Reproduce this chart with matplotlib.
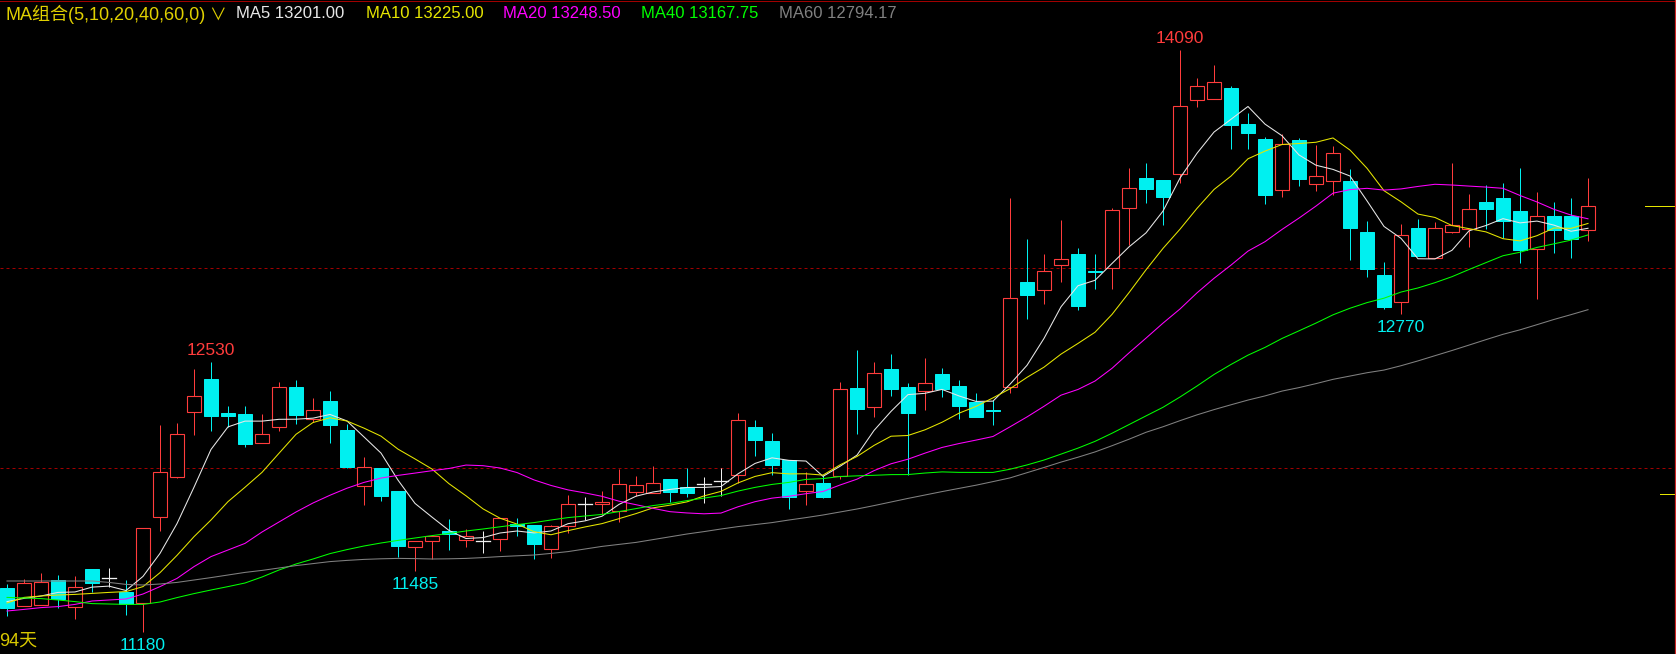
import numpy as np
import pandas as pd
import matplotlib
matplotlib.use("Agg")
import matplotlib.pyplot as plt
from matplotlib.patches import Rectangle

# ---------------- data ----------------
opens = [11400, 11312, 11317, 11440, 11303, 11495, 11448, 11378, 11327, 11753,
         11957, 12278, 12445, 12275, 12270, 12127, 12207, 12405, 12247, 12335,
         12190, 11908, 12000, 11885, 11603, 11633, 11685, 11638, 11635, 11647,
         11720, 11715, 11597, 11708, 11818, 11822, 11787, 11882, 11877, 11945,
         11905, 11920, 11935, 11967, 12203, 12135, 12042, 11887, 11923, 11962,
         12398, 12307, 12495, 12405, 12383, 12470, 12410, 12330, 12290, 12407,
         12930, 12888, 13013, 13070, 12987, 12998, 13298, 13450, 13440, 13468,
         13838, 13847, 13900, 13720, 13645, 13388, 13640, 13418, 13433, 13435,
         13180, 12965, 12832, 13200, 13048, 13182, 13193, 13330, 13350, 13285,
         13097, 13260, 13260, 13188]
highs = [11418, 11445, 11473, 11465, 11460, 11495, 11500, 11440, 11698, 12215,
         12225, 12495, 12530, 12310, 12310, 12270, 12430, 12438, 12350, 12385,
         12218, 12055, 12000, 11885, 11633, 11662, 11745, 11695, 11685, 11748,
         11748, 11715, 11713, 11863, 11857, 11885, 11997, 11960, 12010, 11945,
         12000, 11957, 12000, 12275, 12240, 12173, 12042, 11978, 11965, 12430,
         12590, 12530, 12570, 12425, 12550, 12500, 12440, 12375, 12340, 13350,
         13145, 13070, 13240, 13100, 13070, 13300, 13500, 13525, 13440, 14090,
         13950, 14015, 13910, 13775, 13657, 13668, 13652, 13615, 13610, 13495,
         13235, 13030, 13220, 13245, 13230, 13525, 13370, 13415, 13425, 13500,
         13380, 13330, 13350, 13450]
lows = [11260, 11312, 11317, 11302, 11247, 11378, 11405, 11265, 11180, 11687,
        11952, 12167, 12187, 12203, 12107, 12127, 12187, 12220, 12230, 12127,
        12002, 11817, 11835, 11557, 11485, 11543, 11590, 11607, 11577, 11587,
        11662, 11547, 11552, 11673, 11740, 11770, 11732, 11862, 11877, 11828,
        11857, 11827, 11862, 11927, 12062, 11965, 11795, 11817, 11852, 11943,
        12170, 12257, 12360, 11967, 12292, 12355, 12247, 12257, 12217, 12377,
        12743, 12822, 12932, 12792, 12897, 12897, 13115, 13327, 13217, 13427,
        13807, 13847, 13597, 13597, 13322, 13357, 13412, 13385, 13367, 13042,
        12957, 12797, 12770, 13062, 13048, 13177, 13107, 13197, 13148, 13027,
        12847, 13077, 13052, 13137]
closes = [11302, 11423, 11428, 11345, 11403, 11423, 11448, 11318, 11698, 11978,
          12168, 12358, 12262, 12262, 12122, 12168, 12403, 12265, 12288, 12215,
          12005, 12003, 11862, 11612, 11633, 11662, 11670, 11660, 11635, 11748,
          11712, 11622, 11708, 11818, 11818, 11828, 11918, 11913, 11923, 11882,
          11877, 11920, 11935, 12240, 12142, 12017, 11857, 11918, 11857, 12393,
          12297, 12473, 12395, 12277, 12425, 12395, 12310, 12257, 12285, 12848,
          12867, 12983, 13047, 12812, 12983, 13288, 13398, 13397, 13357, 13808,
          13908, 13928, 13717, 13677, 13367, 13618, 13447, 13460, 13573, 13202,
          12997, 12807, 13163, 13062, 13198, 13213, 13293, 13297, 13233, 13092,
          13258, 13192, 13143, 13308]

# moving-average values before enough in-window history exists
ma5_head = [11332, 11348, 11360, 11378]
ma10_head = [11325, 11353, 11360, 11365, 11368, 11373, 11378, 11382, 11407]
ma20_head = [11285, 11293, 11302, 11307, 11318, 11335, 11340, 11345, 11370, 11407,
             11448, 11507, 11557, 11590, 11623, 11680, 11730, 11780, 11825]
ma40_head = [11353, 11350, 11347, 11340, 11332, 11322, 11320, 11318, 11318, 11330,
             11352, 11372, 11390, 11407, 11425, 11455, 11490, 11520, 11545, 11572,
             11592, 11610, 11625, 11638, 11650, 11662, 11673, 11685, 11695, 11706,
             11717, 11727, 11740, 11752, 11760, 11768, 11782, 11797, 11812]
ma60_head = [11435, 11435, 11435, 11435, 11435, 11435, 11428, 11418, 11415, 11420,
             11428, 11440, 11452, 11465, 11478, 11488, 11500, 11512, 11522, 11532,
             11538, 11543, 11546, 11548, 11547, 11545, 11546, 11548, 11552, 11557,
             11561, 11565, 11573, 11582, 11595, 11608, 11618, 11628, 11642, 11656,
             11670, 11682, 11695, 11707, 11717, 11727, 11740, 11752, 11765, 11780,
             11795, 11812, 11830, 11848, 11865, 11882, 11898, 11914, 11932]

ma_periods = [5, 10, 20, 40, 60]
ma_heads = [ma5_head, ma10_head, ma20_head, ma40_head, ma60_head]
ma_colors = ['#E8E8E8', '#E6E600', '#FF00FF', '#00FF00', '#808080']
legend_labels = ['MA5 13201.00', 'MA10 13225.00', 'MA20 13248.50',
                 'MA40 13167.75', 'MA60 12794.17']
legend_title = 'MA组合(5,10,20,40,60,0)'
grid_levels = [12000, 13000]
marker_levels = [13310, 11870]
high_label_idx = [12, 69]
low_label_idx = [8, 24, 82]
days_label = '94天'

# ---------------- style ----------------
W, H = 1676, 654
PX = 17.0              # pixels per candle
X0 = 7.0               # pixel centre of first candle
RED = '#FF3C3C'
CYAN = '#00F0F0'
WHITE = '#F0F0F0'
LW = 0.72              # 1 px in points

plt.rcParams['font.family'] = ['Liberation Sans', 'DejaVu Sans', 'Noto Sans CJK SC']

fig = plt.figure(figsize=(W / 100, H / 100), dpi=100, facecolor='black')
ax = fig.add_axes([0, 0, 1, 1])
ax.set_facecolor('black')
ax.set_xlim(-X0 / PX, (W - X0) / PX)
ax.set_ylim(11070, 14340)
ax.set_xticks([])
ax.set_yticks([])
for s in ax.spines.values():
    s.set_visible(False)

def px2x(p):
    return (p - X0) / PX

# dashed reference levels
for lv in grid_levels:
    ax.plot([px2x(0), px2x(1674)], [lv, lv], color='#A00000', lw=LW,
            ls=(0, (3, 3)), zorder=1)

# candles
bw = 14.0 / PX
n = len(closes)
for i in range(n):
    o, h, l, c = opens[i], highs[i], lows[i], closes[i]
    if c > o:
        ax.plot([i, i], [l, h], color=RED, lw=LW, zorder=2, solid_capstyle='butt')
        ax.add_patch(Rectangle((i - bw / 2, o), bw, c - o, facecolor='black',
                               edgecolor=RED, lw=LW * 1.1, zorder=3))
    elif c < o:
        ax.plot([i, i], [l, h], color=CYAN, lw=LW, zorder=2, solid_capstyle='butt')
        hgt = max(o - c, 7)
        ax.add_patch(Rectangle((i - bw / 2, o - hgt), bw, hgt, facecolor=CYAN,
                               edgecolor=CYAN, lw=LW, zorder=3))
    else:
        ax.plot([i, i], [l, h], color=WHITE, lw=LW, zorder=2, solid_capstyle='butt')
        ax.plot([i - bw / 2, i + bw / 2], [o, o], color=WHITE, lw=LW * 1.3, zorder=3)

# moving averages
cs = pd.Series(closes, dtype=float)
xs = np.arange(n)
for per, head, col in zip(ma_periods, ma_heads, ma_colors):
    ma = cs.rolling(per).mean().to_numpy()
    ma[:len(head)] = head
    ax.plot(xs, ma, color=col, lw=LW * 1.05, zorder=4)

# extreme labels
for i in high_label_idx:
    ax.annotate(f"{int(highs[i])}", xy=(i, highs[i]), xytext=(0, 8.3),
                textcoords='offset points', ha='center', va='center',
                color=RED, fontsize=12.5, zorder=6)
for i in low_label_idx:
    ax.annotate(f"{int(lows[i])}", xy=(i, lows[i]), xytext=(0, -9.5),
                textcoords='offset points', ha='center', va='center',
                color=CYAN, fontsize=12.5, zorder=6)

# right-side markers
ax.plot([px2x(1645), px2x(1675)], [marker_levels[0]] * 2, color='#E6E600', lw=LW, zorder=5)
ax.plot([px2x(1660), px2x(1675)], [marker_levels[1]] * 2, color='#E6E600', lw=LW, zorder=5)

# frame lines (top and right)
ax.plot([px2x(0), px2x(1676)], [14340 - 2.5, 14340 - 2.5], color='#A00000', lw=LW, zorder=5)
ax.plot([px2x(1675), px2x(1675)], [11070, 14340], color='#D02828', lw=LW * 1.2, zorder=5)

# legend text row
def ftext(xp, yp, s, col, fs=12, **kw):
    fig.text(xp / W, 1 - yp / H, s, color=col, fontsize=fs, ha='left', va='center', **kw)

ftext(5, 14, legend_title, '#E0D000', fs=13)
ftext(209, 15, '∨', '#E0D000', fs=12, fontweight='light')
leg_x = [236, 366, 503, 641, 779]
for xp, lab, col in zip(leg_x, legend_labels, ma_colors):
    ftext(xp, 14, lab, col)

ftext(-1, 641, days_label, '#D8C800', fs=13)

fig.savefig('out.png', dpi=100, facecolor='black')
